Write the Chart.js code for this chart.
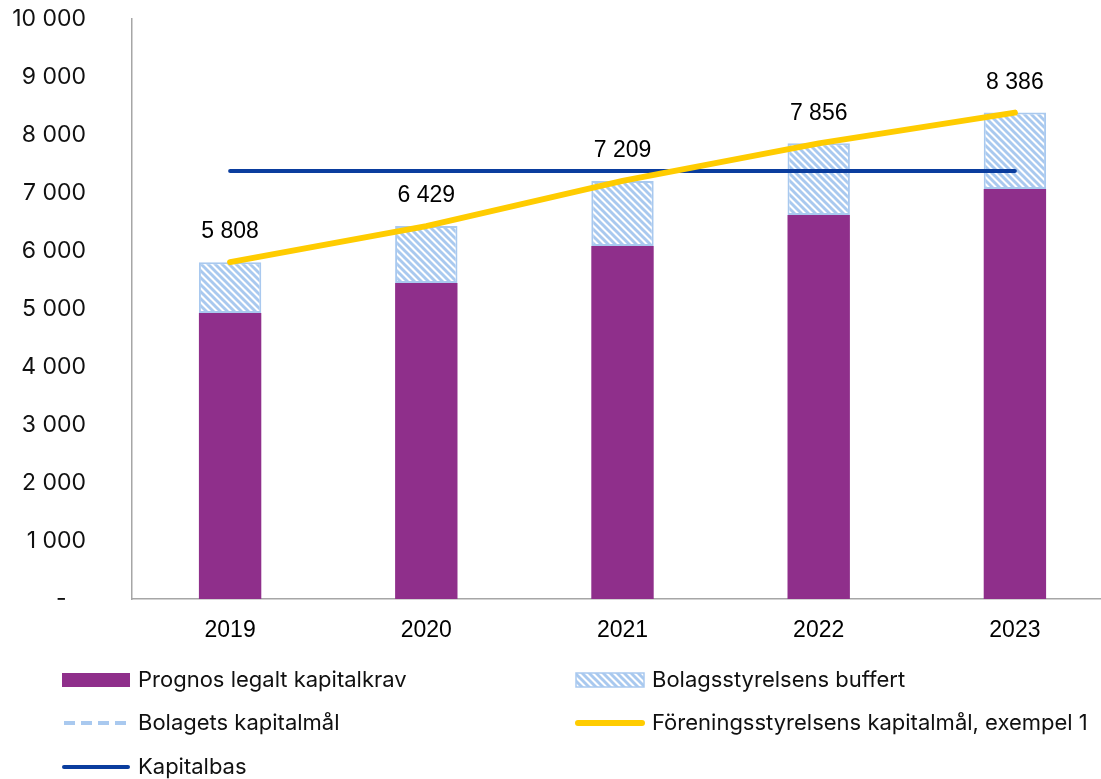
<!DOCTYPE html>
<html>
<head>
<meta charset="utf-8">
<script src="https://cdn.jsdelivr.net/npm/chart.js@4/dist/chart.umd.min.js"></script>
<style>
  html, body { margin: 0; padding: 0; background: #fff; overflow: hidden; }
</style>
</head>
<body>
<canvas id="chart" width="1113" height="779"></canvas>
<script>
// Values
const years = ["2019", "2020", "2021", "2022", "2023"];
const legalKrav = [4930, 5450, 6085, 6620, 7070];      // Prognos legalt kapitalkrav
const buffert = [878, 979, 1124, 1236, 1316];          // Bolagsstyrelsens buffert
const bolagetsMal = [5808, 6429, 7209, 7856, 8386];    // Bolagets kapitalmål
const foreningsMal = [5808, 6429, 7209, 7856, 8386];   // Föreningsstyrelsens kapitalmål, exempel 1
const kapitalbas = [7380, 7380, 7380, 7380, 7380];    // Kapitalbas
const totals = [5808, 6429, 7209, 7856, 8386];         // labels above the bars

const PURPLE = "#8F2F8B";
const LIGHTBLUE = "#A9C9EF";
const YELLOW = "#FFCC00";
const DARKBLUE = "#0A3D9E";
const AXIS = "#A6A6A6";

// "10 000" style numbers, "-" for zero
function fmt(v) {
  if (v === 0) return "-   ";
  return String(v).replace(/\B(?=(\d{3})+(?!\d))/g, " ");
}

const canvas = document.getElementById("chart");
const ctx = canvas.getContext("2d");

// diagonal hatch for the buffer segment
function makeHatch() {
  const s = 7;
  const p = document.createElement("canvas");
  p.width = s; p.height = s;
  const g = p.getContext("2d");
  g.fillStyle = "#fff";
  g.fillRect(0, 0, s, s);
  g.strokeStyle = LIGHTBLUE;
  g.lineWidth = 2.9;
  g.beginPath();
  g.moveTo(-2, -2); g.lineTo(s + 2, s + 2);
  g.moveTo(-2, s - 2); g.lineTo(2, s + 2);
  g.moveTo(s - 2, -2); g.lineTo(s + 2, 2);
  g.stroke();
  return ctx.createPattern(p, "repeat");
}
const hatch = makeHatch();

// numbers above the bars
const totalsLabel = {
  id: "totalsLabel",
  afterDatasetsDraw(chart) {
    const { ctx, scales: { x, y } } = chart;
    ctx.save();
    ctx.font = '23px "Liberation Sans", Arial, sans-serif';
    ctx.fillStyle = "#000";
    ctx.textAlign = "center";
    ctx.textBaseline = "middle";
    totals.forEach((t, i) => {
      ctx.fillText(fmt(t), x.getPixelForValue(i), y.getPixelForValue(t) - 30);
    });
    ctx.restore();
  }
};

// two-column legend under the chart
const gridLegend = {
  id: "gridLegend",
  afterDraw(chart) {
    const { ctx } = chart;
    const cols = [62, 576];
    const rows = [680, 723, 767];
    ctx.save();
    ctx.font = '22px Inter, "Open Sans", sans-serif';
    ctx.textBaseline = "middle";
    ctx.textAlign = "left";
    chart.data.datasets.forEach((ds, n) => {
      const x = cols[n % 2];
      const y = rows[Math.floor(n / 2)];
      const w = 68;
      if (ds.type === "bar") {
        ctx.fillStyle = ds.backgroundColor;
        ctx.fillRect(x, y - 7, w, 14);
        if (ds.borderWidth) {
          ctx.strokeStyle = ds.borderColor;
          ctx.lineWidth = 1.5;
          ctx.strokeRect(x, y - 7, w, 14);
        }
      } else {
        ctx.strokeStyle = ds.borderColor;
        ctx.lineWidth = ds.legendWidth || ds.borderWidth;
        ctx.lineCap = ds.borderDash ? "butt" : "round";
        ctx.setLineDash(ds.legendDash || ds.borderDash || []);
        ctx.beginPath();
        ctx.moveTo(x + 2, y);
        ctx.lineTo(x + w - 2, y);
        ctx.stroke();
        ctx.setLineDash([]);
      }
      ctx.fillStyle = "#111";
      ctx.fillText(ds.label, x + w + 8, y);
    });
    ctx.restore();
  }
};

new Chart(ctx, {
  data: {
    labels: years,
    datasets: [
      {
        type: "bar",
        label: "Prognos legalt kapitalkrav",
        data: legalKrav,
        backgroundColor: PURPLE,
        borderWidth: 0,
        stack: "s",
        order: 4,
        barPercentage: 0.318,
        categoryPercentage: 1
      },
      {
        type: "bar",
        label: "Bolagsstyrelsens buffert",
        data: buffert,
        backgroundColor: hatch,
        borderColor: LIGHTBLUE,
        borderWidth: 2,
        borderSkipped: false,
        stack: "s",
        order: 5,
        barPercentage: 0.318,
        categoryPercentage: 1
      },
      {
        type: "line",
        label: "Bolagets kapitalmål",
        data: bolagetsMal,
        borderColor: LIGHTBLUE,
        borderWidth: 3,
        legendWidth: 4,
        borderDash: [10, 5],
        legendDash: [11, 6],
        pointRadius: 0,
        stack: "l1",
        order: 3
      },
      {
        type: "line",
        label: "Föreningsstyrelsens kapitalmål, exempel 1",
        data: foreningsMal,
        borderColor: YELLOW,
        borderWidth: 6,
        borderCapStyle: "round",
        pointRadius: 0,
        stack: "l2",
        order: 1
      },
      {
        type: "line",
        label: "Kapitalbas",
        data: kapitalbas,
        borderColor: DARKBLUE,
        borderWidth: 4,
        borderCapStyle: "round",
        pointRadius: 0,
        stack: "l3",
        order: 2
      }
    ]
  },
  options: {
    responsive: false,
    animation: false,
    devicePixelRatio: 1,
    layout: { padding: { top: 19, left: 0, right: 0, bottom: 0 } },
    plugins: {
      legend: { display: false },
      tooltip: { enabled: false }
    },
    scales: {
      x: {
        stacked: true,
        offset: true,
        grid: { display: false, drawTicks: false },
        border: { display: true, color: AXIS, width: 1.5 },
        ticks: {
          color: "#000",
          padding: 18,
          font: { family: '"Liberation Sans", Arial, sans-serif', size: 23 }
        },
        afterFit(scale) {
          scale.height = 180;
          scale.paddingLeft = 0;
          scale.paddingRight = 0;
        }
      },
      y: {
        stacked: true,
        min: 0,
        max: 10000,
        grid: { display: false, drawTicks: false },
        border: { display: true, color: AXIS, width: 1.5 },
        ticks: {
          stepSize: 1000,
          color: "#111",
          padding: 46,
          font: { family: 'Inter, "Open Sans", sans-serif', size: 23 },
          callback: v => fmt(v)
        },
        afterFit(scale) {
          scale.width = 132;
          scale.paddingTop = 0;
          scale.paddingBottom = 0;
        }
      }
    }
  },
  plugins: [totalsLabel, gridLegend]
});
</script>
</body>
</html>
